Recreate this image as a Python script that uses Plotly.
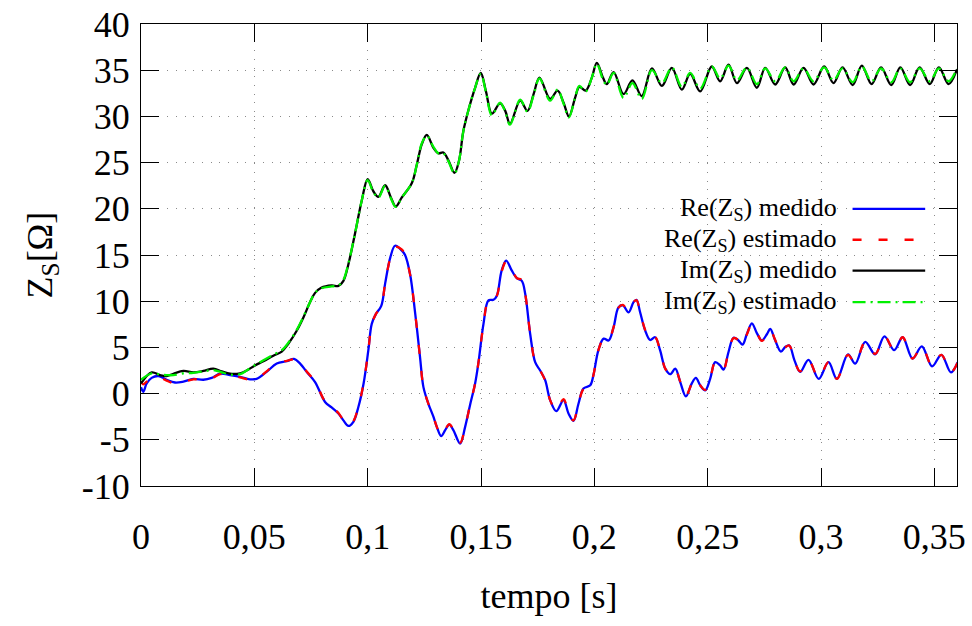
import plotly.graph_objects as go

# --- time bases (s) ---
t_re = [0.000, 0.001, 0.0025, 0.0047, 0.0077, 0.0113, 0.0150, 0.0187, 0.0231, 0.0275,
        0.0312, 0.0349, 0.0393, 0.0437, 0.0481, 0.0510, 0.0554, 0.0599, 0.0643, 0.0675,
        0.0702, 0.0731, 0.0768, 0.0812, 0.0841, 0.0871, 0.0893, 0.0915, 0.0937, 0.0959,
        0.0982, 0.1003, 0.1018, 0.1036, 0.1060, 0.1077, 0.1100, 0.1121, 0.1150, 0.1165,
        0.1187, 0.1210, 0.1231, 0.1246, 0.1268, 0.1290, 0.1305, 0.1324, 0.1342, 0.1360,
        0.1378, 0.1408, 0.1430, 0.1452, 0.1474, 0.1489, 0.1511, 0.1533, 0.1555, 0.1570,
        0.1591, 0.1611, 0.1636, 0.1658, 0.1680, 0.1695, 0.1717, 0.1739, 0.1761, 0.1783,
        0.1805, 0.1832, 0.1864, 0.1886, 0.1908, 0.1930, 0.1952, 0.1982, 0.1996, 0.2018,
        0.2041, 0.2063, 0.2085, 0.2107, 0.2126, 0.2151, 0.2173, 0.2186, 0.2202, 0.2224,
        0.2246, 0.2268, 0.2290, 0.2313, 0.2335, 0.2357, 0.2379, 0.2404, 0.2430, 0.2448,
        0.2467, 0.2489, 0.2511, 0.2533, 0.2555, 0.2570, 0.2592, 0.2614, 0.2636, 0.2654,
        0.2673, 0.2695, 0.2717, 0.2739, 0.2762, 0.2776, 0.2798, 0.2823, 0.2842, 0.2860,
        0.2883, 0.2908, 0.2945, 0.2990, 0.3033, 0.3070, 0.3119, 0.3151, 0.3195, 0.3239,
        0.3280, 0.3323, 0.3360, 0.3404, 0.3445, 0.3490, 0.3531, 0.3573, 0.3603]

re_medido = [0.7, 0.2, 1.1, 1.7, 1.9, 1.5, 1.2, 1.3, 1.6, 1.5,
             1.7, 2.15, 2.0, 1.8, 1.55, 1.6, 2.35, 3.25, 3.5, 3.75,
             3.25, 2.35, 1.25, -0.9, -1.5, -2.15, -2.9, -3.5, -3.05, -1.45,
             1.1, 4.7, 7.55, 8.6, 9.5, 11.9, 14.75, 16.0, 15.5, 15.0,
             12.95, 8.6, 3.95, 0.7, -1.1, -2.5, -3.6, -4.6, -3.95, -3.35,
             -3.95, -5.4, -3.6, -1.2, 1.1, 3.4, 7.55, 10.1, 10.15, 10.6,
             13.3, 14.4, 13.3, 12.5, 12.2, 10.8, 6.45, 3.4, 2.5, 1.45,
             -0.7, -1.9, -0.7, -2.15, -2.95, -1.1, 0.55, 0.9, 2.0, 4.7,
             5.95, 5.75, 7.2, 9.35, 9.55, 8.8, 9.9, 10.15, 8.8, 6.85,
             5.8, 6.1, 4.7, 2.7, 2.1, 2.7, 1.25, -0.3, 1.1, 1.7,
             0.9, 0.35, 1.6, 3.4, 3.05, 2.6, 4.5, 6.05, 5.75, 5.3,
             6.45, 7.6, 6.55, 5.75, 6.45, 7.0, 5.75, 4.55, 5.05, 5.2,
             3.6, 2.35, 3.65, 1.6, 3.4, 1.6, 4.25, 3.25, 5.6, 4.25,
             6.2, 4.7, 6.1, 3.8, 5.1, 2.95, 4.2, 2.3, 3.4]

re_estimado = [1.3, 1.0, 1.3, 1.6, 1.8, 1.4, 1.1, 1.25, 1.55, 1.45,
               1.65, 2.1, 2.0, 1.75, 1.5, 1.6, 2.4, 3.3, 3.55, 3.7,
               3.3, 2.4, 1.3, -0.85, -1.5, -2.1, -2.9, -3.45, -3.0, -1.4,
               1.1, 4.7, 7.5, 8.6, 9.5, 11.9, 14.7, 15.9, 15.6, 15.0,
               12.9, 8.6, 3.9, 0.7, -1.1, -2.5, -3.6, -4.55, -3.9, -3.3,
               -3.9, -5.3, -3.6, -1.2, 1.1, 3.4, 7.5, 10.1, 10.2, 10.6,
               13.2, 14.3, 13.4, 12.5, 12.3, 10.8, 6.5, 3.4, 2.5, 1.4,
               -0.7, -1.8, -0.6, -2.1, -2.9, -1.1, 0.5, 0.9, 2.0, 4.7,
               5.9, 5.8, 7.2, 9.3, 9.6, 8.9, 9.9, 10.1, 8.8, 6.9,
               5.8, 6.1, 4.7, 2.7, 2.1, 2.6, 1.3, -0.2, 1.1, 1.7,
               0.9, 0.4, 1.6, 3.4, 3.0, 2.6, 4.5, 6.0, 5.8, 5.3,
               6.4, 7.5, 6.6, 5.7, 6.4, 6.9, 5.8, 4.5, 5.0, 5.2,
               3.6, 2.4, 3.6, 1.7, 3.4, 1.6, 4.2, 3.3, 5.6, 4.3,
               6.2, 4.7, 6.1, 3.8, 5.1, 3.0, 4.2, 2.3, 3.4]

t_im = [0.000, 0.0047, 0.0084, 0.0113, 0.0143, 0.0187, 0.0231, 0.0275, 0.0319, 0.0356,
        0.0393, 0.0437, 0.0466, 0.0503, 0.0540, 0.0584, 0.0621, 0.0650, 0.0687, 0.0716,
        0.0746, 0.0768, 0.0795, 0.0841, 0.0871, 0.0893, 0.0915, 0.0944, 0.0974, 0.1000,
        0.1025, 0.1047, 0.1077, 0.1103, 0.1124, 0.1150, 0.1195, 0.1217, 0.1239, 0.1261,
        0.1290, 0.1312, 0.1334, 0.1357, 0.1383, 0.1403, 0.1422, 0.1447, 0.1474, 0.1499,
        0.1522, 0.1548, 0.1584, 0.1607, 0.1628, 0.1673, 0.1705, 0.1732, 0.1758, 0.1805,
        0.1838, 0.1864, 0.1888, 0.1915, 0.1934, 0.1962, 0.1989, 0.2011, 0.2038, 0.2055,
        0.2085, 0.2129, 0.2168, 0.2209, 0.2254, 0.2298, 0.2342, 0.2386, 0.2423, 0.2467,
        0.2518, 0.2555, 0.2592, 0.2629, 0.2673, 0.2717, 0.2754, 0.2798, 0.2842, 0.2879,
        0.2923, 0.2967, 0.3014, 0.3055, 0.3095, 0.3140, 0.3180, 0.3223, 0.3265, 0.3310,
        0.3350, 0.3393, 0.3435, 0.3480, 0.3520, 0.3563, 0.3600]

im_medido = [1.1, 2.3, 2.0, 1.9, 2.15, 2.45, 2.3, 2.45, 2.7, 2.4,
             2.15, 2.2, 2.5, 3.05, 3.5, 4.1, 4.55, 5.4, 6.8, 8.2,
             9.9, 10.9, 11.45, 11.7, 11.65, 12.2, 14.0, 17.3, 20.9, 23.2,
             21.9, 21.3, 22.55, 21.2, 20.25, 21.2, 22.8, 24.8, 27.0, 28.0,
             26.6, 26.0, 26.1, 25.2, 23.9, 25.2, 28.4, 30.9, 33.1, 34.7,
             32.7, 30.3, 31.4, 30.6, 29.2, 31.7, 30.6, 32.4, 34.2, 31.9,
             32.8, 31.5, 30.0, 32.0, 33.2, 32.8, 34.2, 35.8, 34.2, 33.5,
             34.8, 32.4, 33.9, 32.2, 35.2, 33.3, 35.25, 32.9, 34.6, 32.7,
             35.4, 33.8, 35.6, 33.6, 35.25, 33.1, 35.25, 33.45, 35.3, 33.45,
             35.25, 33.45, 35.4, 33.6, 35.3, 33.4, 35.5, 33.5, 35.3, 33.4,
             35.3, 33.4, 35.3, 33.5, 35.3, 33.5, 35.1]

im_estimado = [1.5, 2.2, 2.05, 2.0, 2.0, 2.2, 2.25, 2.4, 2.55, 2.3,
               2.05, 2.1, 2.5, 3.1, 3.6, 4.2, 4.7, 5.5, 6.9, 8.3,
               9.9, 10.9, 11.4, 11.6, 11.7, 12.3, 14.1, 17.3, 20.9, 23.1,
               21.8, 21.2, 22.5, 21.1, 20.2, 21.2, 22.8, 24.8, 27.1, 27.9,
               26.7, 26.0, 26.0, 25.1, 23.8, 25.2, 28.4, 30.9, 33.1, 34.6,
               32.6, 30.1, 31.5, 30.5, 29.1, 31.8, 30.5, 32.3, 34.1, 31.7,
               32.9, 31.4, 29.9, 32.0, 33.3, 32.7, 34.2, 35.7, 34.0, 33.4,
               34.7, 32.0, 33.6, 31.9, 35.0, 33.6, 35.3, 33.2, 34.7, 33.0,
               35.4, 34.1, 35.5, 33.9, 35.3, 33.5, 35.2, 33.8, 35.3, 33.8,
               35.2, 33.8, 35.3, 33.9, 35.2, 33.7, 35.4, 33.8, 35.2, 33.7,
               35.2, 33.7, 35.2, 33.8, 35.2, 33.8, 35.2]

# --- axes ---
x_ticks = [0, 0.05, 0.10, 0.15, 0.20, 0.25, 0.30, 0.35]
x_tick_labels = ["0", "0,05", "0,1", "0,15", "0,2", "0,25", "0,3", "0,35"]
y_ticks = [-10, -5, 0, 5, 10, 15, 20, 25, 30, 35, 40]
y_tick_labels = ["-10", "-5", "0", "5", "10", "15", "20", "25", "30", "35", "40"]

legend_labels = ["Re(Z<sub>S</sub>) medido", "Re(Z<sub>S</sub>) estimado",
                 "Im(Z<sub>S</sub>) medido", "Im(Z<sub>S</sub>) estimado"]

FONT = "Liberation Serif"
styles = [
    dict(color="#0000ff", width=2.3, dash="solid"),
    dict(color="#ff0000", width=2.3, dash="9px,17px"),
    dict(color="#000000", width=2.3, dash="solid"),
    dict(color="#00f000", width=2.3, dash="13px,5px,2px,5px"),
]
series = [(t_re, re_medido), (t_re, re_estimado), (t_im, im_medido), (t_im, im_estimado)]

fig = go.Figure()
for (tx, vy), st, name in zip(series, styles, legend_labels):
    fig.add_trace(go.Scatter(x=tx, y=vy, mode="lines", name=name,
                             line=dict(shape="spline", smoothing=1.0, **st),
                             showlegend=False))

# key: label text right-aligned to the left of a short line sample
row_y = [0.600, 0.533, 0.466, 0.398]
for lbl, st, yy in zip(legend_labels, styles, row_y):
    fig.add_annotation(xref="paper", yref="paper", x=0.856, y=yy, text=lbl,
                       showarrow=False, xanchor="right", yanchor="middle",
                       font=dict(family=FONT, size=26, color="black"))
    fig.add_shape(type="line", xref="paper", yref="paper", x0=0.872, x1=0.961,
                  y0=yy, y1=yy, line=st)

axis_common = dict(
    showline=True, linecolor="black", linewidth=1, mirror="allticks",
    ticks="inside", ticklen=18, tickwidth=1, tickcolor="black",
    showgrid=True, gridcolor="#8a8a8a", gridwidth=1, griddash="1px,7.7px",
    zeroline=False, automargin=False,
    tickfont=dict(family=FONT, size=36, color="black"),
)

fig.update_xaxes(range=[0, 0.36], tickvals=x_ticks, ticktext=x_tick_labels,
                 title=dict(text="tempo [s]", font=dict(family=FONT, size=36, color="black"),
                            standoff=26),
                 ticklabelstandoff=19, **axis_common)
fig.update_yaxes(range=[-10, 40], tickvals=y_ticks, ticktext=y_tick_labels,
                 title=dict(text="Z<sub>S</sub>[Ω]", font=dict(family=FONT, size=36, color="black"),
                            standoff=18),
                 ticklabelstandoff=3, **axis_common)

fig.update_layout(
    width=972, height=626,
    margin=dict(l=141, r=15, t=24, b=140),
    paper_bgcolor="white", plot_bgcolor="white",
    showlegend=False,
)

fig.write_html("out.html")
